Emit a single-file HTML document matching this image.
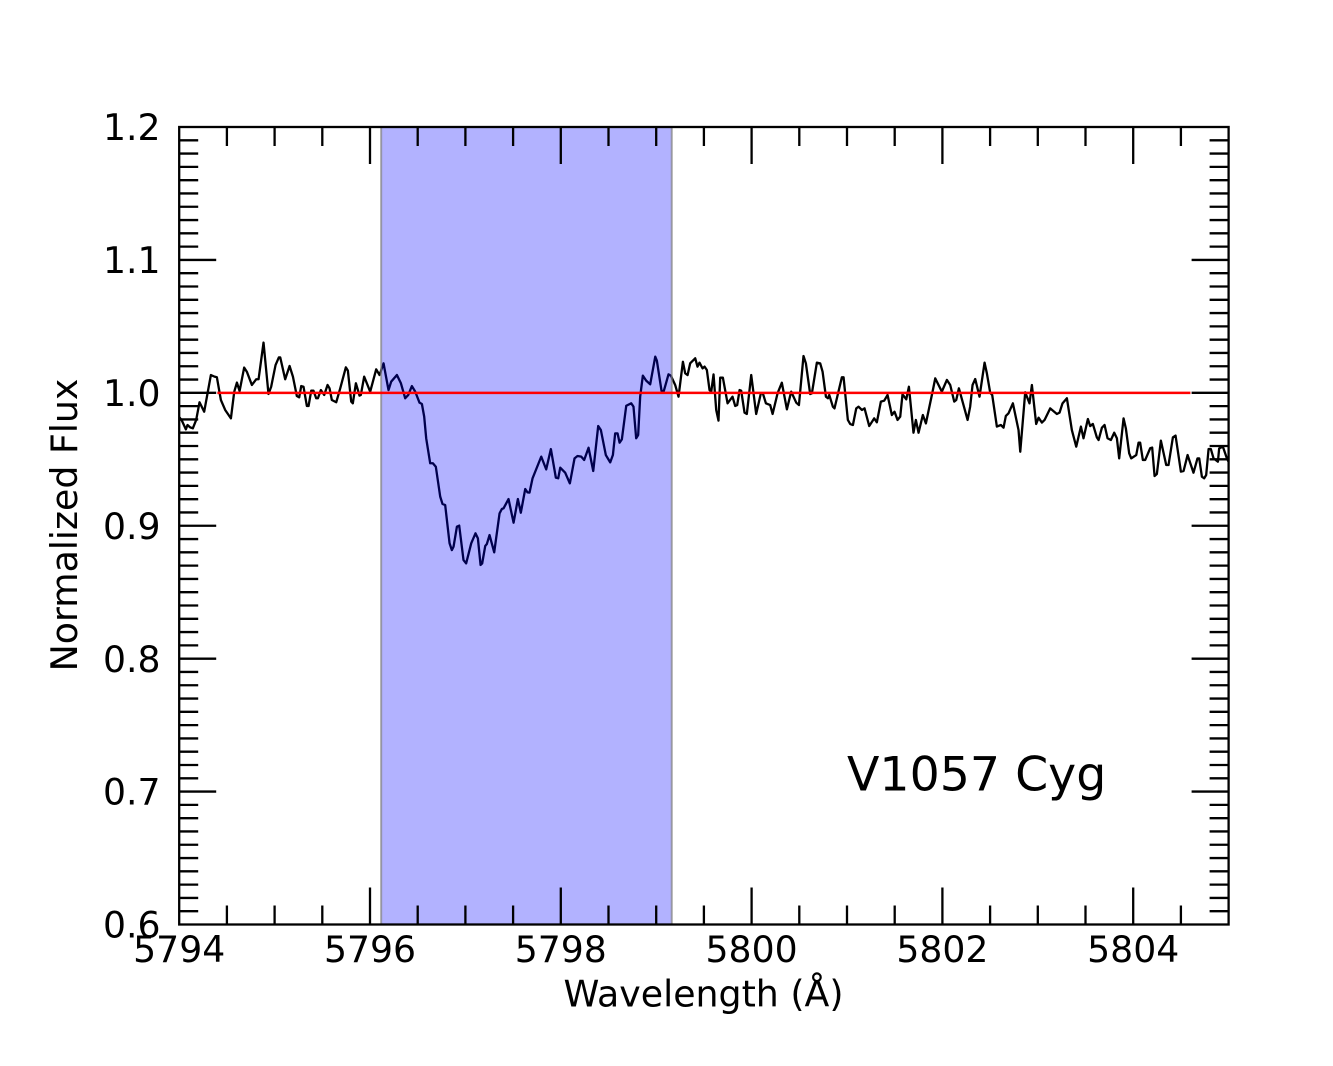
<!DOCTYPE html>
<html lang="en">
<head>
<meta charset="utf-8">
<title>V1057 Cyg normalized flux</title>
<style>
html,body{margin:0;padding:0;background:#fff;}
svg{display:block;}
text{font-family:"DejaVu Sans",sans-serif;fill:#000;}
</style>
</head>
<body>
<svg id="chart" xmlns="http://www.w3.org/2000/svg" width="1333" height="1066" viewBox="0 0 1333 1066"></svg>
<script>
const wavelengths = [5794.003,5794.028,5794.070,5794.087,5794.115,5794.143,5794.178,5794.213,5794.262,5794.297,5794.332,5794.370,5794.395,5794.437,5794.482,5794.542,5794.577,5794.605,5794.633,5794.681,5794.709,5794.762,5794.807,5794.832,5794.884,5794.936,5794.964,5795.010,5795.045,5795.059,5795.111,5795.157,5795.192,5795.233,5795.258,5795.279,5795.303,5795.338,5795.356,5795.384,5795.408,5795.436,5795.454,5795.485,5795.520,5795.555,5795.576,5795.600,5795.646,5795.688,5795.747,5795.768,5795.803,5795.820,5795.852,5795.890,5795.904,5795.939,5796.002,5796.065,5796.100,5796.142,5796.194,5796.222,5796.282,5796.324,5796.369,5796.401,5796.439,5796.474,5796.519,5796.544,5796.568,5796.589,5796.631,5796.659,5796.690,5796.736,5796.760,5796.788,5796.834,5796.858,5796.876,5796.911,5796.935,5796.980,5797.008,5797.061,5797.106,5797.131,5797.159,5797.176,5797.208,5797.225,5797.253,5797.302,5797.358,5797.382,5797.400,5797.452,5797.505,5797.550,5797.581,5797.627,5797.651,5797.672,5797.704,5797.795,5797.847,5797.896,5797.948,5797.973,5797.994,5798.046,5798.095,5798.144,5798.175,5798.214,5798.245,5798.291,5798.340,5798.392,5798.420,5798.472,5798.518,5798.546,5798.570,5798.595,5798.616,5798.640,5798.686,5798.738,5798.762,5798.790,5798.811,5798.832,5798.860,5798.895,5798.937,5798.990,5799.007,5799.056,5799.080,5799.129,5799.154,5799.199,5799.234,5799.280,5799.304,5799.329,5799.356,5799.409,5799.433,5799.454,5799.486,5799.507,5799.531,5799.559,5799.577,5799.601,5799.629,5799.653,5799.671,5799.699,5799.748,5799.800,5799.828,5799.849,5799.874,5799.891,5799.926,5799.950,5799.996,5800.048,5800.097,5800.118,5800.150,5800.195,5800.220,5800.272,5800.317,5800.370,5800.415,5800.468,5800.496,5800.544,5800.569,5800.614,5800.632,5800.684,5800.719,5800.744,5800.779,5800.800,5800.814,5800.852,5800.869,5800.946,5800.964,5801.009,5801.034,5801.062,5801.097,5801.121,5801.156,5801.184,5801.233,5801.285,5801.313,5801.355,5801.390,5801.425,5801.470,5801.498,5801.530,5801.558,5801.582,5801.621,5801.649,5801.697,5801.722,5801.750,5801.795,5801.827,5801.897,5801.925,5801.994,5802.047,5802.082,5802.124,5802.145,5802.173,5802.264,5802.291,5802.316,5802.344,5802.389,5802.442,5802.466,5802.501,5802.522,5802.571,5802.613,5802.641,5802.665,5802.693,5802.739,5802.798,5802.816,5802.868,5802.913,5802.938,5802.983,5803.008,5803.043,5803.071,5803.130,5803.200,5803.228,5803.259,5803.305,5803.357,5803.403,5803.452,5803.479,5803.525,5803.549,5803.577,5803.619,5803.637,5803.672,5803.700,5803.731,5803.766,5803.801,5803.829,5803.853,5803.899,5803.923,5803.958,5803.979,5804.032,5804.056,5804.073,5804.101,5804.126,5804.178,5804.199,5804.224,5804.248,5804.290,5804.346,5804.370,5804.416,5804.444,5804.500,5804.528,5804.570,5804.632,5804.674,5804.692,5804.720,5804.744,5804.765,5804.790,5804.814,5804.842,5804.888,5804.901,5804.940,5804.982,5804.999];
const fluxValues = [.9816,.9791,.9725,.9758,.9740,.9733,.9796,.9929,.9858,.9996,1.0134,1.0122,1.0117,.9946,.9871,.9808,1.0009,1.0077,1.0014,1.0190,1.0159,1.0059,1.0102,1.0102,1.0378,.9991,1.0046,1.0209,1.0267,1.0267,1.0102,1.0202,1.0122,.9976,.9966,1.0051,1.0046,.9901,.9901,1.0016,1.0016,.9959,.9959,1.0021,.9984,1.0059,1.0034,.9946,.9929,1.0034,1.0192,1.0167,.9934,.9921,1.0072,.9979,.9984,1.0122,1.0009,1.0177,1.0134,1.0222,1.0021,1.0084,1.0134,1.0072,.9959,.9984,1.0051,1.0009,.9926,.9916,.9821,.9658,.9470,.9470,.9444,.9219,.9164,.9156,.8868,.8817,.8843,.8993,.9001,.8742,.8717,.8868,.8943,.8905,.8705,.8717,.8848,.8863,.8930,.8800,.9093,.9126,.9131,.9201,.9023,.9201,.9098,.9276,.9251,.9249,.9357,.9520,.9424,.9577,.9362,.9357,.9437,.9399,.9319,.9507,.9525,.9520,.9495,.9587,.9412,.9750,.9720,.9532,.9477,.9532,.9695,.9695,.9625,.9650,.9903,.9921,.9896,.9658,.9683,.9971,1.0129,1.0092,1.0064,1.0272,1.0242,1.0014,1.0014,1.0139,1.0129,1.0059,.9971,1.0234,1.0147,1.0134,1.0222,1.0260,1.0197,1.0227,1.0184,1.0197,1.0172,1.0021,1.0009,1.0139,.9871,.9791,1.0114,1.0114,.9921,.9971,.9901,.9908,1.0021,1.0016,.9851,.9841,1.0134,.9841,.9996,.9996,.9921,.9908,.9841,.9996,1.0076,.9876,1.0009,.9926,.9908,1.0277,1.0222,.9991,.9996,1.0227,1.0222,1.0159,.9971,.9959,.9984,.9896,.9883,1.0117,1.0117,.9796,.9765,.9758,.9883,.9896,.9871,.9883,.9750,.9808,.9778,.9934,.9941,.9984,.9833,.9858,.9796,.9821,.9989,.9951,1.0046,.9700,.9796,.9700,.9833,.9770,1.0009,1.0109,1.0009,1.0097,1.0059,.9934,.9946,1.0034,.9796,.9896,1.0059,1.0104,.9971,1.0227,1.0147,1.0001,.9984,.9746,.9758,.9738,.9826,.9846,.9921,.9720,.9557,1.0004,.9921,1.0059,.9766,.9813,.9776,.9796,.9883,.9841,.9851,.9921,.9959,.9720,.9595,.9746,.9658,.9803,.9750,.9766,.9665,.9645,.9738,.9758,.9658,.9645,.9700,.9658,.9507,.9808,.9733,.9545,.9507,.9532,.9625,.9625,.9495,.9495,.9583,.9588,.9374,.9389,.9640,.9457,.9457,.9665,.9678,.9407,.9412,.9532,.9399,.9507,.9507,.9369,.9357,.9382,.9577,.9577,.9507,.9482,.9582,.9595,.9507,.9482];
const xMajorTicks = [5794,5796,5798,5800,5802,5804];
const xMinorTicks = [5794.5,5795,5795.5,5796.5,5797,5797.5,5798.5,5799,5799.5,5800.5,5801,5801.5,5802.5,5803,5803.5,5804.5];
const yMajorLabels = ["0.6","0.7","0.8","0.9","1.0","1.1","1.2"];
const yMinorSteps = [1,2,3,4,5,6,7,8,9];
const shadedBand = [5796.117,5799.163];
const referenceLevel = [1.0];
const referenceRange = [5794.4,5804.6];
const xDomain = [5794,5805];
const yDomain = [0.6,1.2];

const svg = document.getElementById('chart');
const NS = 'http://www.w3.org/2000/svg';
const plot = {left:179.2,right:1228.6,top:127,bottom:924.5};
function sx(v){return plot.left+(v-xDomain[0])/(xDomain[1]-xDomain[0])*(plot.right-plot.left);}
function sy(v){return plot.bottom-(v-yDomain[0])/(yDomain[1]-yDomain[0])*(plot.bottom-plot.top);}
function mk(tag,attrs,text){
  const el=document.createElementNS(NS,tag);
  for(const k in attrs){el.setAttribute(k,attrs[k]);}
  if(text!==undefined){el.textContent=text;}
  svg.appendChild(el);
  return el;
}
const tickStyle={stroke:'#000','stroke-width':2.3};

// spectrum line (drawn under the translucent band)
const spectrum=mk('polyline',{points:wavelengths.map((w,i)=>sx(w).toFixed(2)+','+sy(fluxValues[i]).toFixed(2)).join(' '),fill:'none',stroke:'#000','stroke-width':2.3,'stroke-linejoin':'round'});



// shaded band
const band=mk('rect',{x:sx(shadedBand[0]),y:plot.top,width:sx(shadedBand[1])-sx(shadedBand[0]),height:plot.bottom-plot.top,fill:'#0000ff','fill-opacity':0.3,stroke:'#808080','stroke-opacity':0.7,'stroke-width':2});



// reference line
const refLine=mk('line',{x1:sx(referenceRange[0]),x2:sx(referenceRange[1]),y1:sy(referenceLevel[0]),y2:sy(referenceLevel[0]),stroke:'#ff0000','stroke-width':2.5});



// ticks
function xTick(v,len,name){
  const a=mk('line',Object.assign({x1:sx(v),x2:sx(v),y1:plot.bottom,y2:plot.bottom-len},tickStyle));
  
  
  const b=mk('line',Object.assign({x1:sx(v),x2:sx(v),y1:plot.top,y2:plot.top+len},tickStyle));
  
  
}
function yTick(v,len,name){
  const a=mk('line',Object.assign({x1:plot.left,x2:plot.left+len,y1:sy(v),y2:sy(v)},tickStyle));
  
  
  const b=mk('line',Object.assign({x1:plot.right,x2:plot.right-len,y1:sy(v),y2:sy(v)},tickStyle));
  
  
}
xMinorTicks.forEach(v=>xTick(v,19,'x-minor-tick'));
xMajorTicks.forEach(v=>{
  if(v>xDomain[0]){xTick(v,37,'x-major-tick');}
  const t=mk('text',{x:sx(v),y:962,'font-size':36.2,'text-anchor':'middle'},String(v));
  
  
});
yMajorLabels.forEach(lbl=>{
  const v=parseFloat(lbl);
  if(v>yDomain[0]&&v<yDomain[1]){yTick(v,37,'y-major-tick');}
  const t=mk('text',{x:160.5,y:sy(v)+13.1,'font-size':36.2,'text-anchor':'end'},lbl);
  
  
  if(v<yDomain[1]){
    yMinorSteps.forEach(s=>yTick(v+s*0.01,19,'y-minor-tick'));
  }
});

// frame
const frame=mk('rect',{x:plot.left,y:plot.top,width:plot.right-plot.left,height:plot.bottom-plot.top,fill:'none',stroke:'#000','stroke-width':2.3});



// titles
const xTitle=mk('text',{x:703.5,y:1006.5,'font-size':36.3,'text-anchor':'middle'},'Wavelength (Å)');


const yTitle=mk('text',{x:0,y:0,'font-size':36.3,'text-anchor':'middle',transform:'translate(77,525) rotate(-90)'},'Normalized Flux');


const starLabel=mk('text',{x:847,y:790.7,'font-size':47.4},'V1057 Cyg');


</script>
</body>
</html>
